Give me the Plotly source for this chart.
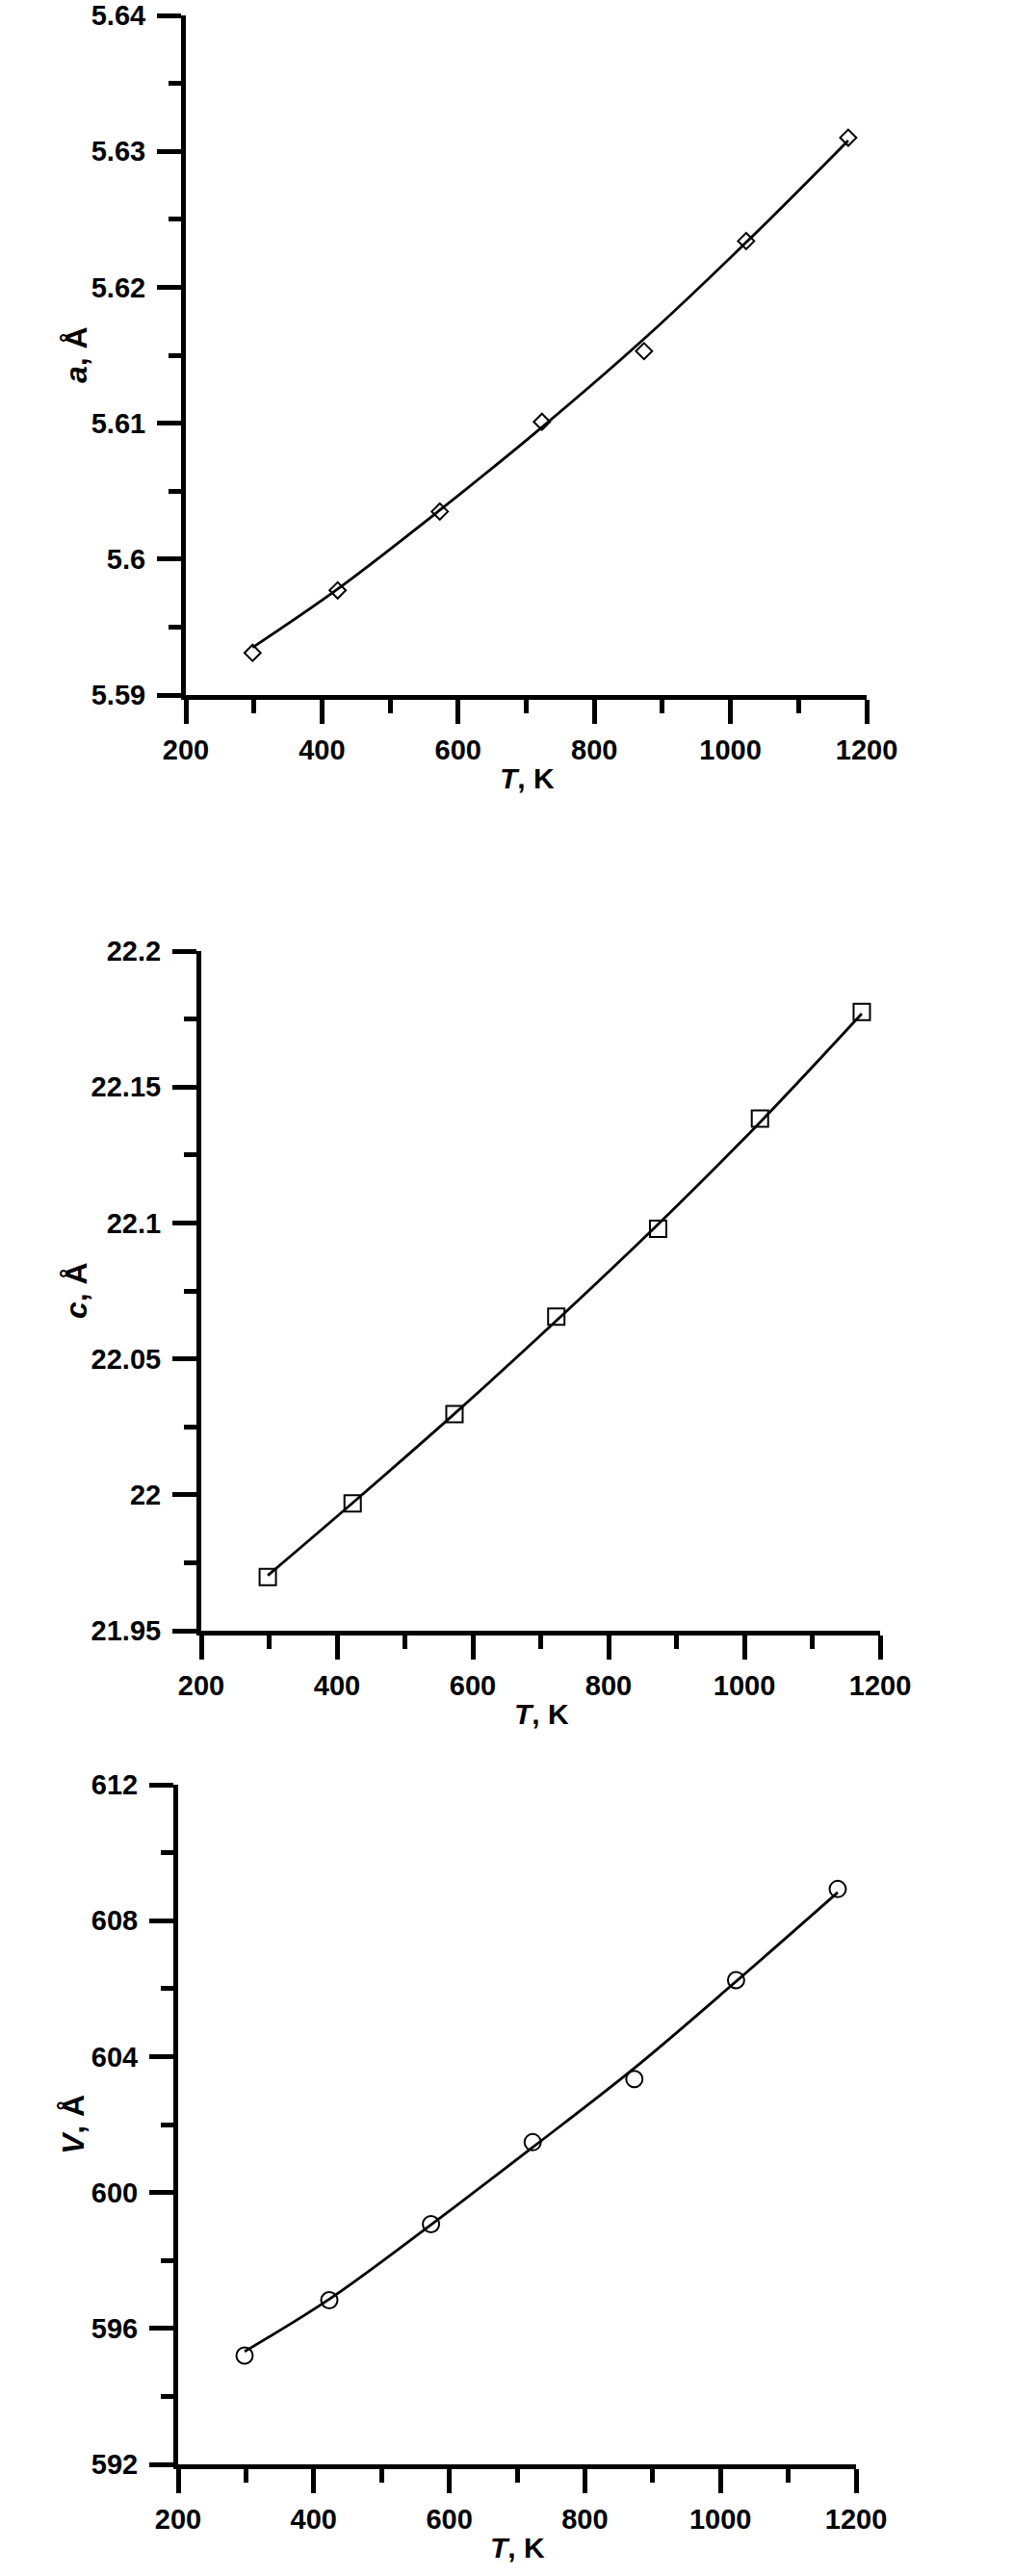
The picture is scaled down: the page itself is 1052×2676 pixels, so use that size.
import plotly.graph_objects as go

W, H = 1052, 2676

# ---------------- data ----------------
T = [298, 423, 573, 723, 873, 1023, 1173]

a_points = [5.5931, 5.5977, 5.6035, 5.6101, 5.6153, 5.6234, 5.6310]
a_curve = [5.5935, 5.5978, 5.6036, 5.6097, 5.6162, 5.6233, 5.6308]

c_points = [21.9697, 21.9968, 22.0297, 22.0655, 22.0978, 22.1384, 22.1776]
c_curve = [21.9703, 21.9970, 22.0298, 22.0640, 22.0995, 22.1370, 22.1770]

V_points = [595.20, 596.83, 599.07, 601.48, 603.34, 606.25, 608.93]
V_curve = [595.32, 596.86, 599.05, 601.33, 603.66, 606.21, 608.83]

x_ticks = [200, 400, 600, 800, 1000, 1200]
x_ticktext = ["200", "400", "600", "800", "1000", "1200"]
x_minor = [300, 500, 700, 900, 1100]

a_ticks = [5.59, 5.60, 5.61, 5.62, 5.63, 5.64]
a_ticktext = ["5.59", "5.6", "5.61", "5.62", "5.63", "5.64"]
a_minor = [5.595, 5.605, 5.615, 5.625, 5.635]

c_ticks = [21.95, 22.0, 22.05, 22.1, 22.15, 22.2]
c_ticktext = ["21.95", "22", "22.05", "22.1", "22.15", "22.2"]
c_minor = [21.975, 22.025, 22.075, 22.125, 22.175]

V_ticks = [592, 596, 600, 604, 608, 612]
V_ticktext = ["592", "596", "600", "604", "608", "612"]
V_minor = [594, 598, 602, 606, 610]

# ---------------- layout (pixel boxes) ----------------
panels = [
    dict(x0=193, x1=900, yt=16, yb=722, ytitle="<b><i>a</i>, Å</b>", yx=79,
         xtitle_x=547, yr=[5.59, 5.64], yt_vals=a_ticks, yt_text=a_ticktext, ymin=a_minor),
    dict(x0=209, x1=914, yt=988, yb=1694, ytitle="<b><i>c</i>, Å</b>", yx=79,
         xtitle_x=562, yr=[21.95, 22.2], yt_vals=c_ticks, yt_text=c_ticktext, ymin=c_minor),
    dict(x0=185, x1=889, yt=1854, yb=2560, ytitle="<b><i>V</i>, Å</b>", yx=76,
         xtitle_x=537, yr=[592, 612], yt_vals=V_ticks, yt_text=V_ticktext, ymin=V_minor),
]

font_family = "Liberation Sans, Arial, sans-serif"
tickfont = dict(family=font_family, size=29, color="black", weight="bold")


def bold(lst):
    return ["<b>%s</b>" % s for s in lst]


fig = go.Figure()

series = [
    (a_points, a_curve, "diamond-open", 13),
    (c_points, c_curve, "square-open", 17),
    (V_points, V_curve, "circle-open", 17),
]

annotations = []
for i, (p, (pts, crv, sym, ms)) in enumerate(zip(panels, series)):
    n = "" if i == 0 else str(i + 1)
    xa = "x" + n
    ya = "y" + n
    fig.add_trace(go.Scatter(x=T, y=crv, mode="lines", line=dict(color="black", width=2.8, shape="spline"),
                             xaxis=xa, yaxis=ya, showlegend=False, hoverinfo="skip"))
    fig.add_trace(go.Scatter(x=T, y=pts, mode="markers",
                             marker=dict(symbol=sym, size=ms, color="black", line=dict(width=2, color="black")),
                             xaxis=xa, yaxis=ya, showlegend=False, cliponaxis=False))
    common = dict(showgrid=False, zeroline=False, showline=True, linewidth=5, linecolor="black",
                  ticks="outside", ticklen=25, tickwidth=4.5, tickcolor="black", tickfont=tickfont,
                  automargin=False)
    fig.update_layout(**{
        "xaxis" + n: dict(domain=[p["x0"] / W, p["x1"] / W], anchor=ya, range=[200, 1200],
                          tickmode="array", tickvals=x_ticks, ticktext=bold(x_ticktext),
                          minor=dict(tickmode="array", tickvals=x_minor, ticks="outside", ticklen=14,
                                     tickwidth=4.5, tickcolor="black", showgrid=False),
                          ticklabelstandoff=2, **common),
        "yaxis" + n: dict(domain=[1 - p["yb"] / H, 1 - p["yt"] / H], anchor=xa, range=p["yr"],
                          tickmode="array", tickvals=p["yt_vals"], ticktext=bold(p["yt_text"]),
                          minor=dict(tickmode="array", tickvals=p["ymin"], ticks="outside", ticklen=13,
                                     tickwidth=4.5, tickcolor="black", showgrid=False),
                          ticklabelstandoff=6, **common),
    })
    annotations.append(dict(text=p["ytitle"], x=p["yx"] / W, y=1 - (p["yt"] + p["yb"]) / 2 / H,
                            xref="paper", yref="paper", showarrow=False, textangle=-90,
                            xanchor="center", yanchor="middle",
                            font=dict(family=font_family, size=32, color="black")))
    annotations.append(dict(text="<b><i>T</i>, K</b>", x=p["xtitle_x"] / W, y=1 - (p["yb"] + 86) / H,
                            xref="paper", yref="paper", showarrow=False,
                            xanchor="center", yanchor="middle",
                            font=dict(family=font_family, size=30, color="black")))

fig.update_layout(width=W, height=H, margin=dict(l=0, r=0, t=0, b=0, autoexpand=False),
                  paper_bgcolor="white", plot_bgcolor="white", showlegend=False,
                  annotations=annotations)

fig.write_html("out.html", config={"displayModeBar": False},
               post_script="document.body.style.margin='0';document.body.style.overflow='hidden';")
